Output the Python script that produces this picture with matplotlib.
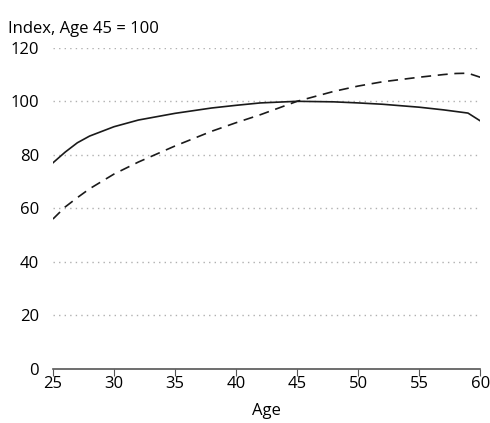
import matplotlib
matplotlib.use("Agg")
import matplotlib.pyplot as plt

plt.rcParams['font.family'] = ['Open Sans', 'DejaVu Sans']

ages_solid = [25, 26, 27, 28, 30, 32, 35, 38, 40, 42, 45, 48, 50, 52, 55, 57, 59, 60]
solid = [77, 81, 84.5, 87, 90.5, 93, 95.5, 97.5, 98.5, 99.4, 100, 99.8, 99.4, 98.9, 97.8, 96.8, 95.6, 92.7]

ages_dash = [25, 26, 27, 28, 30, 32, 35, 38, 40, 42, 45, 48, 50, 52, 55, 57, 58, 59, 60]
dashed = [56, 60.5, 64, 67.3, 72.8, 77.3, 83.3, 88.8, 92, 95, 100, 103.7, 105.7, 107.3, 109, 110, 110.4, 110.5, 109]

xticks = [25, 30, 35, 40, 45, 50, 55, 60]
yticks = [0, 20, 40, 60, 80, 100, 120]

fig = plt.figure(figsize=(4.9, 4.23), dpi=100)
ax = fig.add_axes([0.108, 0.128, 0.872, 0.759])

ax.plot(ages_solid, solid, color='#1a1a1a', lw=1.2)
ax.plot(ages_dash, dashed, color='#1a1a1a', lw=1.2, linestyle=(0, (6, 4)))

ax.set_xlim(25, 60)
ax.set_ylim(0, 120)
ax.set_xticks(xticks)
ax.set_yticks(yticks)
for y in yticks[1:]:
    ax.axhline(y, color='#b0b0b0', lw=1, linestyle=(0, (1, 3)), zorder=0)

for s in ['top', 'right', 'left']:
    ax.spines[s].set_visible(False)
ax.spines['bottom'].set_color('#555555')
ax.spines['bottom'].set_linewidth(1.2)
ax.tick_params(axis='x', direction='out', length=5, color='#555555', labelsize=12, pad=0)
ax.tick_params(axis='y', length=0, labelsize=12, pad=10)

ax.set_xlabel('Age', fontsize=12, labelpad=8)
ax.text(-0.104, 1.035, 'Index, Age 45 = 100', transform=ax.transAxes, fontsize=12,
        ha='left', va='bottom')

fig.savefig('out.png', dpi=100)
